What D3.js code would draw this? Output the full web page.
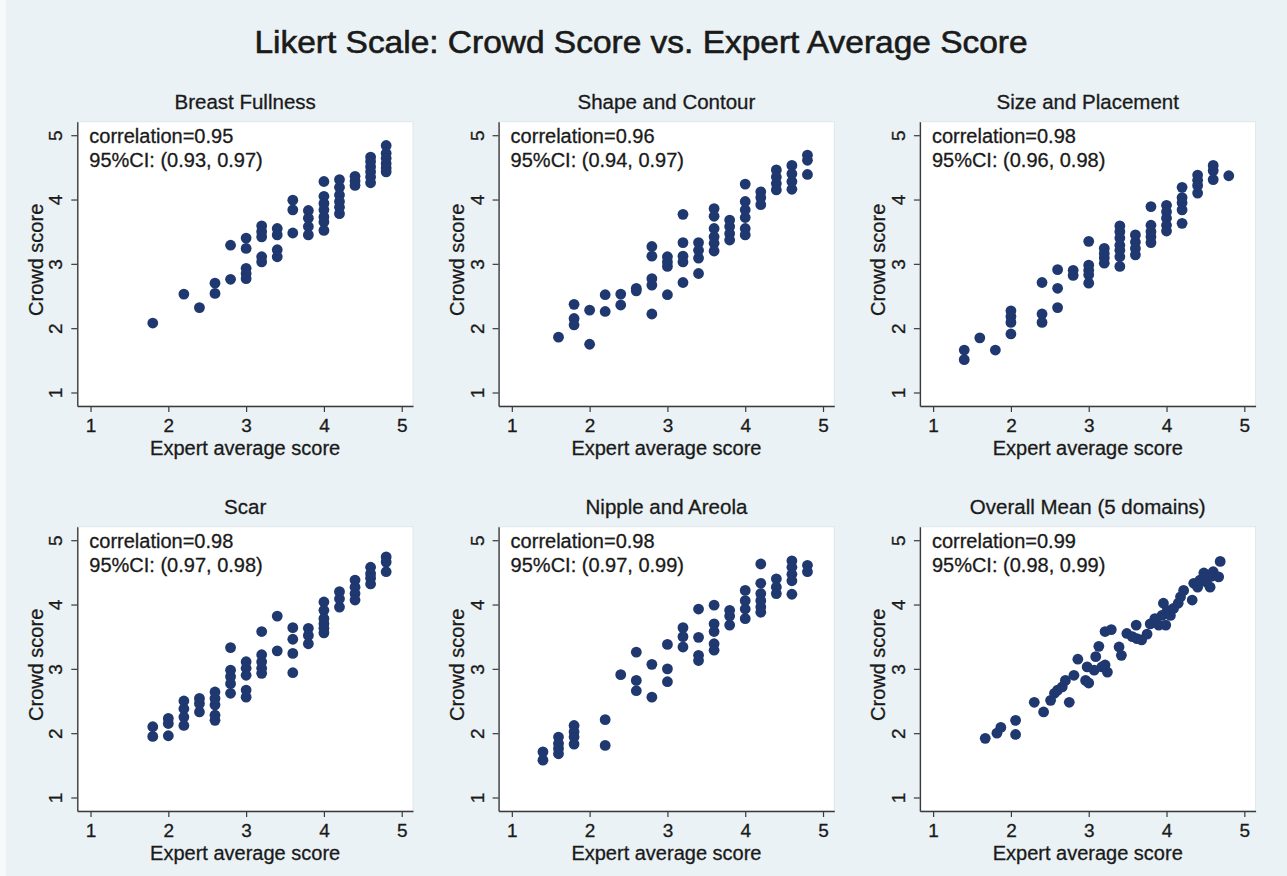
<!DOCTYPE html>
<html>
<head>
<meta charset="utf-8">
<script src="https://cdn.jsdelivr.net/npm/d3@7"></script>
<style>
  body { margin: 0; background: #ffffff; }
  svg text { font-family: "Liberation Sans", Arial, Helvetica, sans-serif; fill: #1a1a1a;
             stroke: #1a1a1a; stroke-width: 0.3px; }
</style>
</head>
<body>
<div id="chart"></div>
<script>
// panel titles and stats
var panelTitles = ["Breast Fullness", "Shape and Contour", "Size and Placement",
    "Scar", "Nipple and Areola", "Overall Mean (5 domains)"];
var correlations = ["0.95", "0.96", "0.98", "0.98", "0.98", "0.99"];
var ciLabels = ["(0.93, 0.97)", "(0.94, 0.97)", "(0.96, 0.98)",
    "(0.97, 0.98)", "(0.97, 0.99)", "(0.98, 0.99)"];
var tickValues = [1, 2, 3, 4, 5];

// Breast Fullness
var fullnessExpert = [1.8, 2.2, 2.4, 2.6, 2.6, 2.8, 2.8,
    3.0, 3.0, 3.0, 3.0, 3.0, 3.2, 3.2, 3.2, 3.2, 3.2,
    3.4, 3.4, 3.4, 3.4, 3.6, 3.6, 3.6, 3.8, 3.8, 3.8, 3.8,
    4.0, 4.0, 4.0, 4.0, 4.0, 4.0, 4.0, 4.2, 4.2, 4.2, 4.2, 4.2, 4.2,
    4.4, 4.4, 4.4, 4.6, 4.6, 4.6, 4.6, 4.6, 4.6, 4.8, 4.8, 4.8, 4.8, 4.8, 4.8];
var fullnessCrowd = [2.08, 2.53, 2.32, 2.70, 2.54, 3.29, 2.76,
    3.40, 3.24, 2.93, 2.85, 2.77, 3.59, 3.50, 3.42, 3.11, 3.03,
    3.55, 3.45, 3.22, 3.11, 3.99, 3.84, 3.48, 3.83, 3.71, 3.58, 3.45,
    4.28, 4.05, 3.94, 3.84, 3.73, 3.65, 3.52, 4.31, 4.19, 4.07, 3.97, 3.88, 3.78,
    4.36, 4.29, 4.22, 4.66, 4.59, 4.51, 4.43, 4.35, 4.26, 4.84, 4.72, 4.64, 4.56, 4.49, 4.43];

// Shape and Contour
var shapeExpert = [1.6, 1.8, 1.8, 1.8, 2.0, 2.0, 2.2, 2.2, 2.4, 2.4, 2.6, 2.6,
    2.8, 2.8, 2.8, 2.8, 2.8, 3.0, 3.0, 3.0, 3.0, 3.2, 3.2, 3.2, 3.2, 3.2,
    3.4, 3.4, 3.4, 3.4, 3.6, 3.6, 3.6, 3.6, 3.6, 3.6, 3.8, 3.8, 3.8, 3.8,
    4.0, 4.0, 4.0, 4.0, 4.0, 4.0, 4.2, 4.2, 4.2, 4.4, 4.4, 4.4, 4.4,
    4.6, 4.6, 4.6, 4.6, 4.8, 4.8, 4.8];
var shapeCrowd = [1.86, 2.37, 2.15, 2.05, 2.28, 1.75, 2.52, 2.26, 2.53, 2.36, 2.62, 2.58,
    3.27, 3.12, 2.77, 2.67, 2.22, 3.11, 3.03, 2.96, 2.52, 3.77, 3.33, 3.12, 3.03, 2.71,
    3.33, 3.21, 3.09, 2.85, 3.86, 3.74, 3.55, 3.42, 3.32, 3.20, 3.68, 3.58, 3.47, 3.37,
    4.24, 3.97, 3.84, 3.72, 3.55, 3.45, 4.12, 4.03, 3.92, 4.46, 4.35, 4.25, 4.15,
    4.53, 4.40, 4.28, 4.16, 4.69, 4.61, 4.39];

// Size and Placement
var sizeExpert = [1.4, 1.4, 1.6, 1.8, 2.0, 2.0, 2.0, 2.0, 2.4, 2.4, 2.4, 2.6, 2.6, 2.6,
    2.8, 2.8, 3.0, 3.0, 3.0, 3.0, 3.0, 3.2, 3.2, 3.2, 3.2,
    3.4, 3.4, 3.4, 3.4, 3.4, 3.4, 3.4, 3.6, 3.6, 3.6, 3.6,
    3.8, 3.8, 3.8, 3.8, 3.8, 4.0, 4.0, 4.0, 4.0, 4.0,
    4.2, 4.2, 4.2, 4.2, 4.2, 4.4, 4.4, 4.4, 4.4, 4.6, 4.6, 4.6, 4.8];
var sizeCrowd = [1.66, 1.51, 1.85, 1.66, 2.27, 2.18, 2.09, 1.91, 2.71, 2.22, 2.09, 2.91, 2.62, 2.32,
    2.90, 2.82, 3.35, 2.98, 2.90, 2.83, 2.70, 3.24, 3.16, 3.09, 3.01,
    3.59, 3.50, 3.40, 3.29, 3.21, 3.11, 2.96, 3.45, 3.34, 3.24, 3.14,
    3.89, 3.60, 3.50, 3.42, 3.33, 3.91, 3.81, 3.71, 3.60, 3.51,
    4.19, 4.03, 3.95, 3.84, 3.63, 4.38, 4.30, 4.22, 4.10, 4.53, 4.45, 4.31, 4.37];

// Scar
var scarExpert = [1.8, 1.8, 2.0, 2.0, 2.0, 2.2, 2.2, 2.2, 2.2, 2.4, 2.4, 2.4,
    2.6, 2.6, 2.6, 2.6, 2.6, 2.8, 2.8, 2.8, 2.8, 2.8, 3.0, 3.0, 3.0, 3.0, 3.0,
    3.2, 3.2, 3.2, 3.2, 3.2, 3.4, 3.4, 3.6, 3.6, 3.6, 3.6, 3.8, 3.8, 3.8,
    4.0, 4.0, 4.0, 4.0, 4.0, 4.0, 4.2, 4.2, 4.2, 4.4, 4.4, 4.4, 4.4,
    4.6, 4.6, 4.6, 4.6, 4.8, 4.8, 4.8];
var scarCrowd = [2.10, 1.95, 2.23, 2.15, 1.96, 2.50, 2.38, 2.25, 2.12, 2.54, 2.46, 2.33,
    2.64, 2.54, 2.44, 2.28, 2.20, 3.33, 2.98, 2.88, 2.77, 2.62, 3.11, 3.01, 2.90, 2.67, 2.56,
    3.58, 3.22, 3.11, 3.01, 2.93, 3.82, 3.28, 3.64, 3.46, 3.24, 2.94, 3.63, 3.52, 3.39,
    4.04, 3.91, 3.78, 3.70, 3.63, 3.56, 4.20, 4.09, 3.96, 4.38, 4.27, 4.17, 4.07,
    4.58, 4.48, 4.41, 4.32, 4.74, 4.66, 4.51];

// Nipple and Areola
var nippleExpert = [1.4, 1.4, 1.6, 1.6, 1.6, 1.6, 1.8, 1.8, 1.8, 1.8, 2.2, 2.2, 2.4,
    2.6, 2.6, 2.6, 2.8, 2.8, 3.0, 3.0, 3.0, 3.2, 3.2, 3.2,
    3.4, 3.4, 3.4, 3.4, 3.6, 3.6, 3.6, 3.6, 3.6, 3.8, 3.8, 3.8,
    4.0, 4.0, 4.0, 4.0, 4.2, 4.2, 4.2, 4.2, 4.2, 4.2, 4.4, 4.4, 4.4,
    4.6, 4.6, 4.6, 4.6, 4.6, 4.8, 4.8];
var nippleCrowd = [1.71, 1.58, 1.94, 1.84, 1.76, 1.68, 2.12, 2.02, 1.94, 1.83, 2.21, 1.81, 2.91,
    3.26, 2.82, 2.66, 3.07, 2.56, 3.38, 3.00, 2.80, 3.64, 3.50, 3.34,
    3.93, 3.49, 3.21, 3.13, 3.99, 3.70, 3.58, 3.39, 3.29, 3.91, 3.82, 3.68,
    4.22, 4.06, 3.93, 3.78, 4.63, 4.33, 4.17, 4.06, 3.96, 3.88, 4.40, 4.27, 4.17,
    4.68, 4.58, 4.47, 4.37, 4.16, 4.61, 4.51];

// Overall Mean (5 domains)
var overallExpert = [1.67, 1.82, 1.87, 2.06, 2.06, 2.30, 2.42, 2.51, 2.56, 2.60, 2.66, 2.70,
    2.75, 2.81, 2.86, 2.96, 3.00, 2.98, 3.07, 3.09, 3.13, 3.17, 3.21, 3.24, 3.21, 3.29,
    3.39, 3.42, 3.49, 3.56, 3.61, 3.62, 3.68, 3.75, 3.79, 3.85, 3.90, 3.94, 3.96, 3.99,
    4.01, 4.05, 4.09, 4.15, 4.18, 4.22, 4.33, 4.35, 4.40, 4.43, 4.48, 4.51, 4.56, 4.58,
    4.60, 4.67, 4.69];
var overallCrowd = [1.92, 2.00, 2.09, 2.20, 1.98, 2.48, 2.33, 2.51, 2.62, 2.67, 2.72, 2.82,
    2.48, 2.90, 3.15, 2.82, 2.78, 3.03, 2.98, 3.19, 3.35, 3.03, 3.06, 2.95, 3.58, 3.61,
    3.34, 3.21, 3.55, 3.50, 3.68, 3.47, 3.45, 3.54, 3.70, 3.78, 3.68, 3.83, 4.02, 3.68,
    3.91, 3.83, 3.94, 4.02, 4.12, 4.22, 4.07, 4.33, 4.27, 4.38, 4.49, 4.35, 4.27, 4.44,
    4.51, 4.43, 4.67];

var panelExpert = [fullnessExpert, shapeExpert, sizeExpert, scarExpert, nippleExpert, overallExpert];
var panelCrowd = [fullnessCrowd, shapeCrowd, sizeCrowd, scarCrowd, nippleCrowd, overallCrowd];

// layout
var W = 1287, H = 876;
var bg = "#eaf2f5", dotColor = "#1f3870", axisColor = "#3a3a3a";
var plotW = 335.7, plotH = 284.3;
var colX = [77.3, 498.6, 919.9], rowY = [121.7, 526.7];

var svg = d3.select("#chart").append("svg")
    .attr("width", W)
    .attr("height", H);

svg.append("rect").attr("width", W).attr("height", H).attr("fill", bg);
svg.append("rect").attr("width", 6).attr("height", H).attr("fill", "#f7fafb");

svg.append("text")
    .attr("transform", "translate(641,53) scale(1.08,1)")
    .attr("text-anchor", "middle")
    .style("font-size", "31px")
    .style("stroke-width", "0.6px")
    .text("Likert Scale: Crowd Score vs. Expert Average Score");

var x = d3.scaleLinear().domain([0.83, 5.145]).range([0, plotW]);
var y = d3.scaleLinear().domain([0.79, 5.21]).range([plotH, 0]);

for (var i = 0; i < 6; i++) {
    var r = Math.floor(i / 3), c = i % 3;
    var g = svg.append("g")
        .attr("transform", "translate(" + colX[c] + "," + rowY[r] + ")");

    // plot region
    g.append("rect")
        .attr("width", plotW)
        .attr("height", plotH)
        .attr("fill", "#ffffff")
        .attr("stroke", "#dfe7ea")
        .attr("stroke-width", 1);

    // panel title
    g.append("text")
        .attr("x", plotW / 2)
        .attr("y", -13)
        .attr("text-anchor", "middle")
        .style("font-size", "20.5px")
        .text(panelTitles[i]);

    // y axis
    var ya = g.append("g")
        .call(d3.axisLeft(y).tickValues(tickValues).tickFormat(d3.format("d"))
            .tickSize(6).tickSizeOuter(0));
    ya.select(".domain").attr("stroke", axisColor).attr("stroke-width", 1.4);
    ya.selectAll(".tick line").attr("stroke", axisColor).attr("stroke-width", 1.2);
    ya.selectAll(".tick text")
        .attr("x", 0).attr("dy", 0)
        .attr("transform", "translate(-15,0) rotate(-90)")
        .attr("text-anchor", "middle")
        .style("font-size", "19px")
        .style("font-family", "'Liberation Sans', Arial, sans-serif");

    // x axis
    var xa = g.append("g")
        .attr("transform", "translate(0," + plotH + ")")
        .call(d3.axisBottom(x).tickValues(tickValues).tickFormat(d3.format("d"))
            .tickSize(6).tickSizeOuter(0));
    xa.select(".domain").attr("stroke", axisColor).attr("stroke-width", 1.4);
    xa.selectAll(".tick line").attr("stroke", axisColor).attr("stroke-width", 1.2);
    xa.selectAll(".tick text")
        .attr("y", 25.7).attr("dy", 0)
        .style("font-size", "19px")
        .style("font-family", "'Liberation Sans', Arial, sans-serif");

    // axis titles
    g.append("text")
        .attr("x", plotW / 2)
        .attr("y", plotH + 49.3)
        .attr("text-anchor", "middle")
        .style("font-size", "20px")
        .text("Expert average score");

    g.append("text")
        .attr("transform", "translate(-34.5," + (plotH / 2 - 4) + ") rotate(-90)")
        .attr("text-anchor", "middle")
        .style("font-size", "20px")
        .text("Crowd score");

    // dots
    var pts = panelExpert[i].map(function (d, k) { return [d, panelCrowd[i][k]]; });
    g.append("g")
        .selectAll("circle")
        .data(pts)
        .enter()
        .append("circle")
        .attr("cx", function (d) { return x(d[0]); })
        .attr("cy", function (d) { return y(d[1]); })
        .attr("r", 5.4)
        .style("fill", dotColor);

    // correlation note
    g.append("text")
        .attr("x", 12)
        .attr("y", 21)
        .style("font-size", "20px")
        .text("correlation=" + correlations[i]);
    g.append("text")
        .attr("x", 12)
        .attr("y", 45)
        .style("font-size", "20px")
        .text("95%CI: " + ciLabels[i]);
}
</script>
</body>
</html>
